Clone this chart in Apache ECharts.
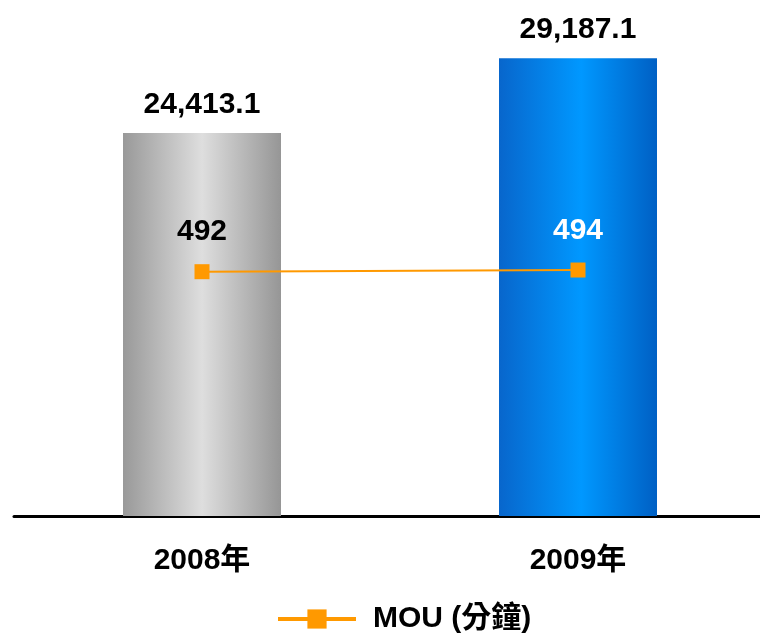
<!DOCTYPE html>
<html>
<head>
<meta charset="utf-8">
<script src="https://cdn.jsdelivr.net/npm/echarts/dist/echarts.min.js"></script>
<style>
  html, body { margin: 0; padding: 0; background: #fff; }
  #chart { width: 760px; height: 636px; }
</style>
</head>
<body>
<div id="chart"></div>
<script>
const years = ['2008年', '2009年']
const subscribers = [24413.1, 29187.1]
const mou = [492, 494]
const mouName = 'MOU (分鐘)'

const font = '"Liberation Sans", Arial, "Noto Sans CJK TC", sans-serif'

const grayFill = new echarts.graphic.LinearGradient(0, 0, 1, 0, [
  { offset: 0, color: '#999999' },
  { offset: 0.5, color: '#dedede' },
  { offset: 1, color: '#969696' }
])
const blueFill = new echarts.graphic.LinearGradient(0, 0, 1, 0, [
  { offset: 0, color: '#0866cc' },
  { offset: 0.52, color: '#0098ff' },
  { offset: 1, color: '#0060c4' }
])
const barFills = [grayFill, blueFill]
const mouLabelColors = ['#000000', '#ffffff']

const fmt = v => v.toLocaleString('en-US', { minimumFractionDigits: 1, maximumFractionDigits: 1 })

const chart = echarts.init(document.getElementById('chart'), null, { renderer: 'canvas' })

chart.setOption({
  animation: false,
  backgroundColor: '#ffffff',
  textStyle: { fontFamily: font },
  grid: { left: 14, width: 752, top: 14, bottom: 120, outerBoundsMode: 'none', containLabel: false },
  legend: {
    data: [mouName],
    left: 271,
    top: 599,
    itemWidth: 78,
    itemHeight: 24,
    lineStyle: { width: 4 },
    textStyle: {
      color: '#000',
      fontSize: 30,
      fontWeight: 'bold',
      fontFamily: font,
      padding: [0, 0, 0, 12]
    }
  },
  xAxis: {
    type: 'category',
    data: years,
    axisTick: { show: false },
    axisLine: { lineStyle: { color: '#000', width: 3 } },
    axisLabel: {
      color: '#000',
      fontSize: 30,
      fontWeight: 'bold',
      fontFamily: font,
      margin: 30
    }
  },
  yAxis: [
    { type: 'value', min: 0, max: 32000, show: false, splitLine: { show: false } },
    { type: 'value', min: 200, max: 800, show: false, splitLine: { show: false } }
  ],
  series: [
    {
      name: 'subscribers',
      type: 'bar',
      barWidth: 158,
      data: subscribers.map((v, i) => ({ value: v, itemStyle: { color: barFills[i] } })),
      label: {
        show: true,
        position: 'top',
        distance: 13,
        color: '#000',
        fontSize: 30,
        fontWeight: 'bold',
        fontFamily: font,
        formatter: p => fmt(p.value)
      }
    },
    {
      name: mouName,
      type: 'line',
      yAxisIndex: 1,
      symbol: 'rect',
      symbolSize: 15,
      color: '#ff9900',
      lineStyle: { color: '#ff9900', width: 2 },
      itemStyle: { color: '#ff9900' },
      data: mou.map((v, i) => ({ value: v, label: { color: mouLabelColors[i] } })),
      label: {
        show: true,
        position: 'top',
        distance: 17,
        fontSize: 30,
        fontWeight: 'bold',
        fontFamily: font
      }
    }
  ]
})
</script>
</body>
</html>
